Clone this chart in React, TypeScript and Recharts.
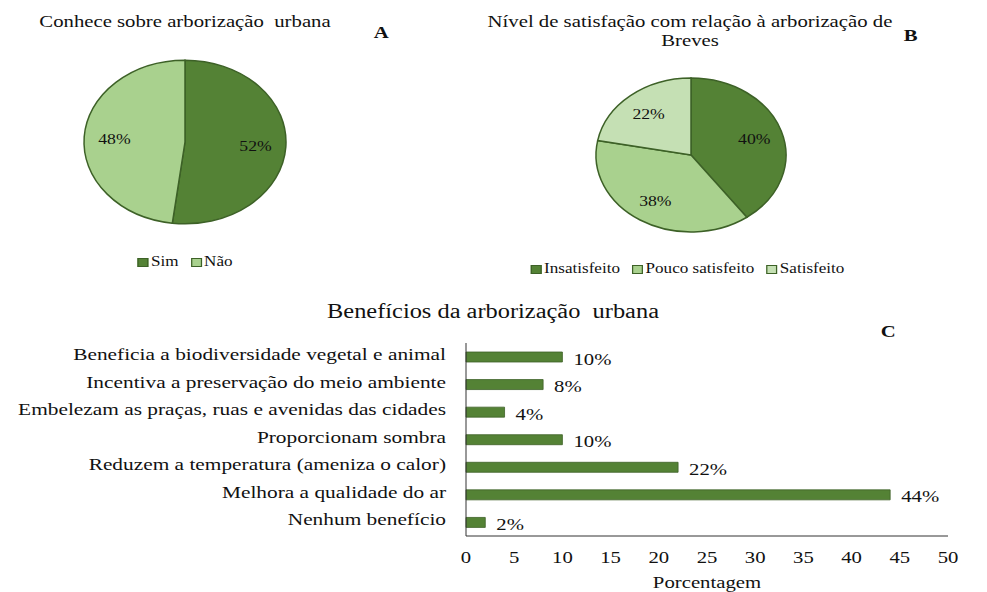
import { Bar, BarChart, Cell, LabelList, Legend, Pie, PieChart, XAxis, YAxis } from 'recharts';

const knowsNames = ['Sim', 'Não'];
const knowsValues = [52, 48];
const satisfactionNames = ['Insatisfeito', 'Pouco satisfeito', 'Satisfeito'];
const satisfactionValues = [40, 38, 22];
const benefitNames = [
  'Beneficia a biodiversidade vegetal e animal',
  'Incentiva a preservação do meio ambiente',
  'Embelezam as praças, ruas e avenidas das cidades',
  'Proporcionam sombra',
  'Reduzem a temperatura (ameniza o calor)',
  'Melhora a qualidade do ar',
  'Nenhum benefício',
];
const benefitValues = [10, 8, 4, 10, 22, 44, 2];
const xTicks = [0, 5, 10, 15, 20, 25, 30, 35, 40, 45, 50];

const knowsData = knowsNames.map((name, i) => ({ name, value: knowsValues[i] }));
const satisfactionData = satisfactionNames.map((name, i) => ({ name, value: satisfactionValues[i] }));
const benefitData = benefitNames.map((name, i) => ({ name, value: benefitValues[i] }));

const FONT = '"Liberation Serif", "Times New Roman", serif';
const DARK = '#548235';
const LIGHT = '#A9D18E';
const LIGHTER = '#C5E0B4';
const EDGE = '#3D6127';
const SQUASH = 0.81;
const SX = 1.22; // source image is stretched sideways, text too
const RAD = Math.PI / 180;

const pt = (cx: number, cy: number, r: number, a: number) => ({
  x: cx + Math.cos(-a * RAD) * r,
  y: cy + Math.sin(-a * RAD) * r * SQUASH,
});

function SText({ x, y, anchor = 'middle', size = 17, children, dy = '0.355em' }: any) {
  return (
    <text transform={`translate(${x},${y}) scale(${SX},1)`} x={0} y={0} dy={dy} textAnchor={anchor} fontFamily={FONT} fontSize={size} fill="#111">
      {children}
    </text>
  );
}

// ellipse wedge, the original pies are stretched
function EllipseSector(props: any) {
  const { cx, cy, outerRadius, startAngle, endAngle, fill } = props;
  const s = pt(cx, cy, outerRadius, startAngle);
  const e = pt(cx, cy, outerRadius, endAngle);
  const large = Math.abs(endAngle - startAngle) > 180 ? 1 : 0;
  const sweep = endAngle < startAngle ? 1 : 0;
  const d = `M${cx},${cy} L${s.x},${s.y} A${outerRadius},${outerRadius * SQUASH} 0 ${large} ${sweep} ${e.x},${e.y} Z`;
  return <path d={d} fill={fill} stroke={EDGE} strokeWidth={1.5} />;
}

function pieLabel(props: any) {
  const { cx, cy, midAngle, outerRadius, value } = props;
  const p = pt(cx, cy, outerRadius * 0.7, midAngle);
  return <SText x={p.x} y={p.y} size={14.5}>{value}%</SText>;
}

const makeLegend = (names: string[], colors: string[]) => () => (
  <div style={{ display: 'flex', justifyContent: 'center', gap: 10, fontFamily: FONT, fontSize: 14, color: '#111', transform: `scaleX(${SX})` }}>
    {names.map((n, i) => (
      <span key={n} style={{ display: 'flex', alignItems: 'center' }}>
        <span style={{ width: 7, height: 7, background: colors[i], border: `1px solid ${EDGE}`, marginRight: 2, display: 'inline-block' }} />
        {n}
      </span>
    ))}
  </div>
);

const abs = (left: number, top: number, extra: any = {}) => ({
  position: 'absolute' as const,
  left,
  top,
  fontFamily: FONT,
  color: '#111',
  whiteSpace: 'nowrap' as const,
  transform: `scaleX(${SX})`,
  transformOrigin: 'center',
  ...extra,
});

export default function App() {
  return (
    <div style={{ position: 'absolute', left: 0, top: 0, width: 987, height: 592, background: '#fff', overflow: 'hidden' }}>
      <div style={abs(35, 12, { width: 300, textAlign: 'center', fontSize: 17 })}>Conhece sobre arborização&nbsp; urbana</div>
      <div style={abs(375, 23, { fontSize: 17, fontWeight: 'bold' })}>A</div>
      <div style={abs(490, 12, { width: 400, textAlign: 'center', fontSize: 17, lineHeight: '19px' })}>
        Nível de satisfação com relação à arborização de
        <br />
        Breves
      </div>
      <div style={abs(905, 26, { fontSize: 17, fontWeight: 'bold' })}>B</div>
      <div style={abs(343, 300, { width: 300, textAlign: 'center', fontSize: 20 })}>Benefícios da arborização&nbsp; urbana</div>
      <div style={abs(882, 322, { fontSize: 17, fontWeight: 'bold' })}>C</div>
      <div style={abs(607, 573, { width: 200, textAlign: 'center', fontSize: 17 })}>Porcentagem</div>

      <div style={{ position: 'absolute', left: 0, top: 0 }}>
        <PieChart width={380} height={285}>
          <Pie
            data={knowsData}
            dataKey="value"
            nameKey="name"
            cx={180}
            cy={137}
            outerRadius={101}
            startAngle={90}
            endAngle={-270}
            shape={EllipseSector}
            label={pieLabel}
            labelLine={false}
            isAnimationActive={false}
          >
            <Cell fill={DARK} />
            <Cell fill={LIGHT} />
          </Pie>
          <Legend content={makeLegend(knowsNames, [DARK, LIGHT])} wrapperStyle={{ top: 254, left: 0, width: 370 }} />
        </PieChart>
      </div>

      <div style={{ position: 'absolute', left: 480, top: 0 }}>
        <PieChart width={420} height={290}>
          <Pie
            data={satisfactionData}
            dataKey="value"
            nameKey="name"
            cx={206}
            cy={150}
            outerRadius={95}
            startAngle={90}
            endAngle={-270}
            shape={EllipseSector}
            label={pieLabel}
            labelLine={false}
            isAnimationActive={false}
          >
            <Cell fill={DARK} />
            <Cell fill={LIGHT} />
            <Cell fill={LIGHTER} />
          </Pie>
          <Legend content={makeLegend(satisfactionNames, [DARK, LIGHT, LIGHTER])} wrapperStyle={{ top: 261, left: 0, width: 415 }} />
        </PieChart>
      </div>

      <div style={{ position: 'absolute', left: 0, top: 290 }}>
        <BarChart width={987} height={302} data={benefitData} layout="vertical" margin={{ top: 53, right: 39, bottom: 0, left: 0 }}>
          <XAxis
            type="number"
            domain={[0, 50]}
            ticks={xTicks}
            tickLine={false}
            axisLine={{ stroke: '#333' }}
            tick={(p: any) => <SText x={p.x} y={p.y} size={17} dy="0.71em">{p.payload.value}</SText>}
            tickMargin={9}
            height={56}
          />
          <YAxis
            type="category"
            dataKey="name"
            width={466}
            tickLine={false}
            axisLine={{ stroke: '#333' }}
            tick={(p: any) => <SText x={p.x} y={p.y - 3} anchor="end" size={17.5}>{p.payload.value}</SText>}
            tickMargin={14}
          />
          <Bar dataKey="value" fill={DARK} stroke={EDGE} strokeWidth={0.8} barSize={10} isAnimationActive={false}>
            <LabelList
              dataKey="value"
              content={(p: any) => (
                <SText x={p.x + p.width + 11} y={p.y + p.height / 2 + 1.5} anchor="start" size={17}>
                  {p.value}%
                </SText>
              )}
            />
          </Bar>
        </BarChart>
      </div>
    </div>
  );
}
